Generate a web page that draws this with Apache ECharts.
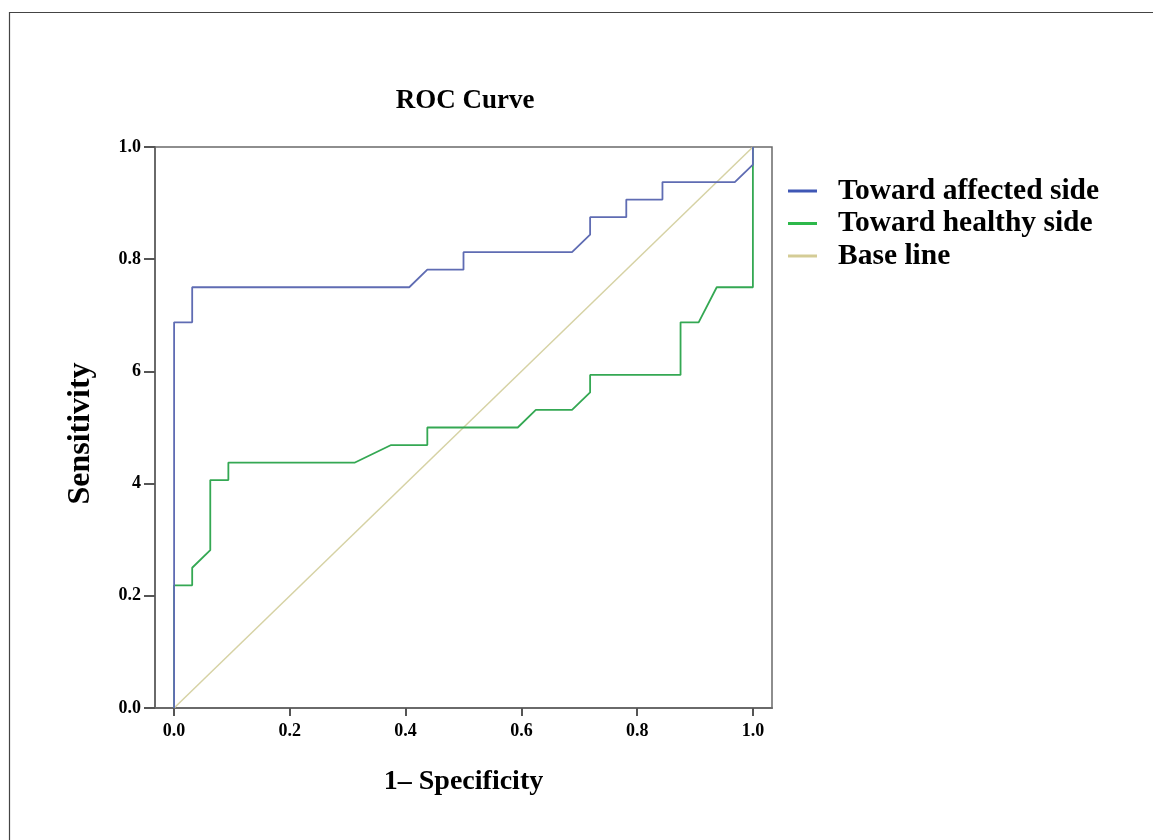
<!DOCTYPE html>
<html>
<head>
<meta charset="utf-8">
<script src="https://cdn.jsdelivr.net/npm/echarts@6/dist/echarts.min.js"></script>
<style>
html,body{margin:0;padding:0;background:#fff;}
#chart{width:1153px;height:840px;}
</style>
</head>
<body>
<div id="chart"></div>
<script>
// ROC data points [1 - specificity, sensitivity]
const affectedX = [0, 0, 0.03125, 0.03125, 0.40625, 0.4375, 0.5, 0.5, 0.6875, 0.71875, 0.71875, 0.78125, 0.78125, 0.84375, 0.84375, 0.96875, 1, 1];
const affectedY = [0, 0.6875, 0.6875, 0.75, 0.75, 0.78125, 0.78125, 0.8125, 0.8125, 0.84375, 0.875, 0.875, 0.90625, 0.90625, 0.9375, 0.9375, 0.96875, 1];
const healthyX = [0, 0, 0.03125, 0.03125, 0.0625, 0.0625, 0.09375, 0.09375, 0.3125, 0.375, 0.4375, 0.4375, 0.59375, 0.625, 0.6875, 0.71875, 0.71875, 0.875, 0.875, 0.90625, 0.9375, 1, 1];
const healthyY = [0, 0.21875, 0.21875, 0.25, 0.28125, 0.40625, 0.40625, 0.4375, 0.4375, 0.46875, 0.46875, 0.5, 0.5, 0.53125, 0.53125, 0.5625, 0.59375, 0.59375, 0.6875, 0.6875, 0.75, 0.75, 1];
const baseX = [0, 1];
const baseY = [0, 1];
const xTicks = [0, 0.2, 0.4, 0.6, 0.8, 1.0];
const xTickLabels = ['0.0', '0.2', '0.4', '0.6', '0.8', '1.0'];
const yTicks = [0, 0.2, 0.4, 0.6, 0.8, 1.0];
const yTickLabels = ['0.0', '0.2', '4', '6', '0.8', '1.0'];
const seriesNames = ['Toward affected side', 'Toward healthy side', 'Base line'];

const zip = (xs, ys) => xs.map((x, i) => [x, ys[i]]);
const font = 'Liberation Serif, Times New Roman, serif';

const chart = echarts.init(document.getElementById('chart'));
chart.setOption({
  animation: false,
  backgroundColor: '#fff',
  title: {
    text: 'ROC Curve',
    left: 465, top: 88, textAlign: 'center', padding: 0,
    textStyle: {fontFamily: font, fontWeight: 'bold', fontSize: 27, color: '#000'}
  },
  legend: {
    orient: 'vertical', left: 788, top: 176, padding: 0,
    icon: 'rect', itemWidth: 29, itemHeight: 3, itemGap: 2.5,
    textStyle: {fontFamily: font, fontWeight: 'bold', fontSize: 29.5, lineHeight: 29.5, color: '#000', padding: [0, 0, 0, 16]},
    data: seriesNames
  },
  grid: {
    left: 155, right: 381, top: 147, bottom: 132,
    show: true, borderColor: '#6a6a6a', borderWidth: 1.5, backgroundColor: '#fff'
  },
  xAxis: {
    type: 'value', min: -0.033, max: 1.033,
    name: '1\u2013 Specificity', nameLocation: 'middle', nameGap: 60,
    nameTextStyle: {fontFamily: font, fontWeight: 'bold', fontSize: 28, color: '#000'},
    axisLine: {show: true, onZero: false, lineStyle: {color: '#6a6a6a', width: 2}},
    axisTick: {show: true, length: 8, customValues: xTicks, lineStyle: {color: '#555', width: 2}},
    axisLabel: {customValues: xTicks, margin: 14, fontFamily: font, fontWeight: 'bold', fontSize: 18, color: '#000',
      formatter: v => xTickLabels[xTicks.findIndex(t => Math.abs(t - v) < 1e-6)]},
    splitLine: {show: false}
  },
  yAxis: {
    type: 'value', min: 0, max: 1,
    name: 'Sensitivity', nameLocation: 'middle', nameGap: 58,
    nameTextStyle: {fontFamily: font, fontWeight: 'bold', fontSize: 32, color: '#000', padding: [0, 12, 0, 0]},
    axisLine: {show: true, onZero: false, lineStyle: {color: '#6a6a6a', width: 2}},
    axisTick: {show: true, length: 11, customValues: yTicks, lineStyle: {color: '#555', width: 2}},
    axisLabel: {customValues: yTicks, margin: 14, fontFamily: font, fontWeight: 'bold', fontSize: 18, color: '#000',
      padding: [5, 0, 0, 0],
      formatter: v => yTickLabels[yTicks.findIndex(t => Math.abs(t - v) < 1e-6)]},
    splitLine: {show: false}
  },
  series: [
    {name: seriesNames[0], type: 'line', data: zip(affectedX, affectedY), showSymbol: false, symbol: 'none',
      lineStyle: {color: '#5f6cb3', width: 1.8}, itemStyle: {color: '#3f57b5'}, z: 4},
    {name: seriesNames[1], type: 'line', data: zip(healthyX, healthyY), showSymbol: false, symbol: 'none',
      lineStyle: {color: '#34a853', width: 1.8}, itemStyle: {color: '#2db84a'}, z: 3},
    {name: seriesNames[2], type: 'line', data: zip(baseX, baseY), showSymbol: false, symbol: 'none',
      lineStyle: {color: '#d6d2a4', width: 1.5}, itemStyle: {color: '#d4cc96'}, z: 2}
  ],
  graphic: [{
    type: 'rect', shape: {x: 9.5, y: 12.5, width: 1160, height: 840},
    style: {fill: null, stroke: '#444', lineWidth: 1.2}, silent: true
  }]
});
</script>
</body>
</html>
